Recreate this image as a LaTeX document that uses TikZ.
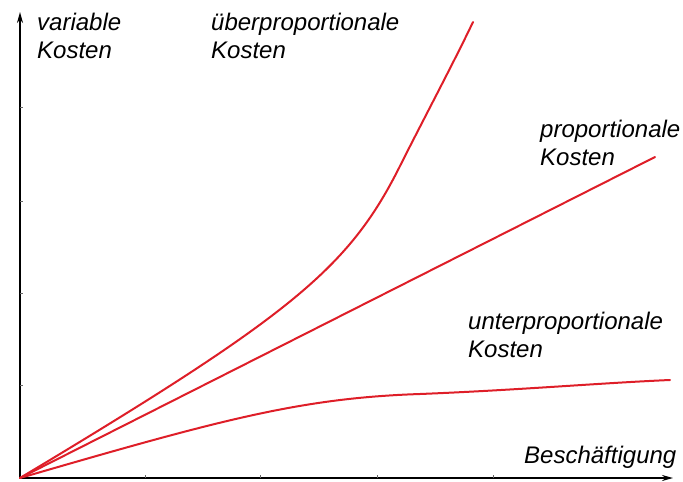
\documentclass[tikz,border=0pt]{standalone}
\usepackage{fontspec}
\setmainfont{Liberation Sans}
\usetikzlibrary{arrows.meta}
\definecolor{curvered}{RGB}{222,30,40}

\begin{document}
\begin{tikzpicture}[x=1pt,y=-1pt,
    axis/.style={line width=1.6pt,-{Stealth[length=11pt,width=6pt]}},
    tick/.style={line width=0.5pt,black!60},
    cost/.style={curvered,line width=2pt,line cap=round},
    label/.style={anchor=north west,inner sep=0pt,align=left,font=\itshape\fontsize{24}{28}\selectfont}]

    \useasboundingbox (0,0) rectangle (683,482);
    \coordinate (O) at (20,478);
    \coordinate (ytop) at (20,12);
    \coordinate (xend) at (673,478);

    \draw[axis] (O) -- (ytop);
    \draw[axis] (O) -- (xend);
    \foreach \y in {107,201,293,385} \draw[tick] (20,\y) -- (23,\y);
    \foreach \x in {145,260,377,493} \draw[tick] (\x,478) -- (\x,475);

    % kurven
    \draw[cost] (O) .. controls (292,315) and (349,268) .. (400,166)
                    .. controls (420,126) and (455,60) .. (473,22);
    \draw[cost] (O) -- (655,157);
    \draw[cost] (O) .. controls (220,420) and (300,398) .. (420,394)
                    .. controls (520,390) and (600,383) .. (670,380);

    \node[label] (yl) at (37,13) {variable\\Kosten};
    \node[label] (ueber) at (211,13) {überproportionale\\Kosten};
    \node[label] (prop) at (540,120) {proportionale\\Kosten};
    \node[label] (unter) at (468,312) {unterproportionale\\Kosten};
    \node[label,anchor=base west] (xl) at (524,463) {Beschäftigung};
\end{tikzpicture}
\end{document}
